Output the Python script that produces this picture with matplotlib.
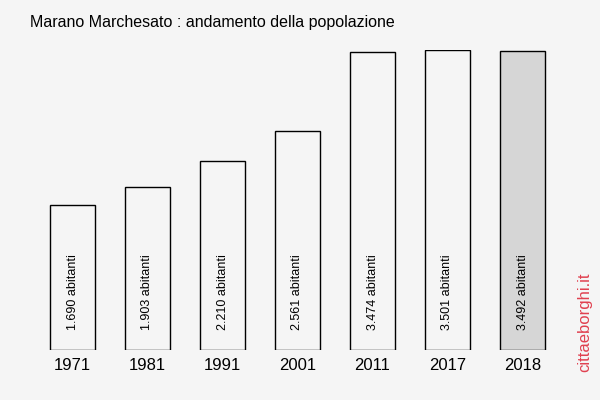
import matplotlib.pyplot as plt

plt.rcParams["font.family"] = ["Liberation Sans", "DejaVu Sans"]

years = ["1971", "1981", "1991", "2001", "2011", "2017", "2018"]
population = [1690, 1903, 2210, 2561, 3474, 3501, 3492]
labels = ["1.690 abitanti", "1.903 abitanti", "2.210 abitanti", "2.561 abitanti",
          "3.474 abitanti", "3.501 abitanti", "3.492 abitanti"]

bg = "#f5f5f5"
fig = plt.figure(figsize=(6, 4), dpi=100, facecolor=bg)
# axes: x from 35px to 560px, y from 50px (bottom) to 350px
ax = fig.add_axes([35 / 600, 50 / 400, 525 / 600, 300 / 400])
ax.set_facecolor(bg)

colors = [bg] * (len(years) - 1) + ["#d6d6d6"]
positions = list(range(len(years)))
ax.bar(positions, population, width=0.6, color=colors, edgecolor="black", linewidth=1.0)

for x, lab in zip(positions, labels):
    ax.text(x, 233, lab, rotation=90, ha="center", va="bottom", fontsize=9, color="black")

ax.set_xlim(-0.5, len(years) - 0.5)
ax.set_ylim(0, max(population))
ax.set_xticks(positions)
ax.set_xticklabels(years, fontsize=12)
ax.tick_params(axis="x", length=0, pad=6)
ax.set_yticks([])
for spine in ax.spines.values():
    spine.set_visible(False)

fig.text(30 / 600, 1 - 22 / 400, "Marano Marchesato : andamento della popolazione",
         fontsize=11.5, ha="left", va="center")
fig.text(585 / 600, 1 - 322 / 400, "cittaeborghi.it", rotation=90, color="#e0404f",
         fontsize=12, ha="center", va="center")

fig.savefig("out.png", dpi=100, facecolor=bg)
